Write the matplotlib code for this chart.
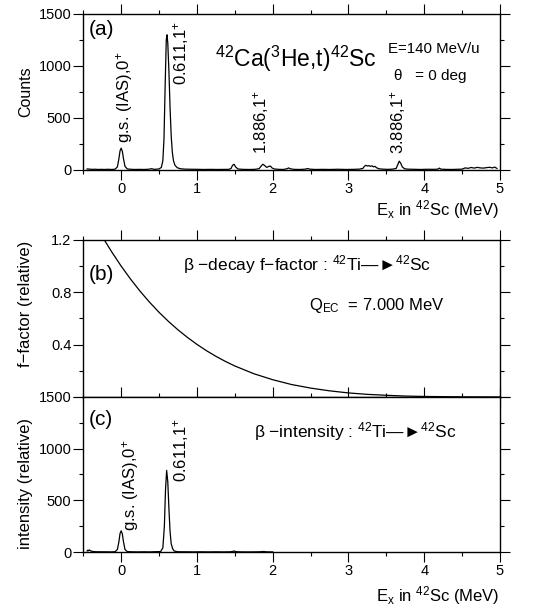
import matplotlib
matplotlib.use('Agg')
import matplotlib.pyplot as plt
from matplotlib.ticker import MultipleLocator

plt.rcParams['font.family'] = ['Liberation Sans', 'DejaVu Sans']
plt.rcParams['mathtext.fontset'] = 'custom'
plt.rcParams['mathtext.rm'] = 'Liberation Sans'
plt.rcParams['mathtext.it'] = 'Liberation Sans:italic'
plt.rcParams['mathtext.bf'] = 'Liberation Sans:bold'

# (a) 42Ca(3He,t) spectrum, counts vs Ex
ex_a = [-0.45, -0.42, -0.38, -0.34, -0.30, -0.26, -0.22, -0.18, -0.14, -0.10,
        -0.08, -0.05, -0.03, -0.015, 0.0, 0.015, 0.03, 0.05, 0.08, 0.12,
        0.18, 0.24, 0.30, 0.36, 0.40, 0.44, 0.47, 0.50, 0.53, 0.55,
        0.565, 0.58, 0.595, 0.605, 0.615, 0.63, 0.645, 0.66, 0.675, 0.69,
        0.71, 0.74, 0.78, 0.84, 0.90, 0.96, 1.02, 1.10, 1.18, 1.26,
        1.34, 1.42, 1.45, 1.47, 1.49, 1.51, 1.54, 1.60, 1.68, 1.76,
        1.82, 1.85, 1.87, 1.89, 1.92, 1.95, 1.97, 1.99, 2.02, 2.08,
        2.14, 2.19, 2.21, 2.23, 2.28, 2.36, 2.43, 2.46, 2.49, 2.56,
        2.66, 2.76, 2.86, 2.96, 3.06, 3.14, 3.19, 3.21, 3.23, 3.25,
        3.27, 3.29, 3.31, 3.33, 3.35, 3.37, 3.40, 3.45, 3.52, 3.58,
        3.63, 3.65, 3.67, 3.69, 3.71, 3.74, 3.78, 3.88, 3.96, 4.04,
        4.12, 4.18, 4.20, 4.22, 4.28, 4.36, 4.44, 4.50, 4.54, 4.58,
        4.62, 4.66, 4.70, 4.74, 4.78, 4.82, 4.86, 4.90, 4.93, 4.96]
counts_a = [10, 8, 6, 7, 5, 6, 5, 7, 5, 6,
            8, 30, 110, 185, 210, 180, 110, 35, 10, 7,
            5, 6, 5, 7, 12, 6, 8, 10, 25, 90,
            300, 800, 1250, 1300, 1220, 950, 600, 330, 170, 90,
            45, 22, 12, 8, 7, 5, 6, 5, 6, 5,
            6, 6, 15, 45, 55, 30, 10, 6, 5, 6,
            12, 40, 55, 45, 25, 35, 38, 20, 10, 6,
            5, 12, 20, 12, 6, 5, 8, 14, 8, 5,
            6, 5, 7, 5, 6, 8, 15, 35, 45, 38,
            42, 35, 40, 30, 35, 22, 12, 8, 6, 8,
            15, 50, 85, 65, 30, 12, 8, 6, 5, 7,
            6, 8, 18, 8, 6, 5, 7, 8, 20, 16,
            24, 18, 25, 20, 18, 22, 26, 20, 28, 15]

# (b) beta-decay f-factor (relative)
ex_b = [-0.25, -0.125, 0.0, 0.125, 0.25, 0.375, 0.5, 0.625, 0.75, 0.875,
        1.0, 1.125, 1.25, 1.375, 1.5, 1.75, 2.0, 2.25, 2.5, 2.75,
        3.0, 3.25, 3.5, 3.75, 4.0, 4.5, 5.0]
f_b = [1.226, 1.109, 1.0, 0.900, 0.808, 0.724, 0.647, 0.577, 0.513, 0.455,
       0.402, 0.354, 0.311, 0.272, 0.237, 0.178, 0.132, 0.095, 0.068, 0.047,
       0.031, 0.020, 0.013, 0.007, 0.004, 0.001, 0.0]

# (c) beta intensity (relative)
ex_c = [-0.45, -0.44, -0.43, -0.42, -0.41, -0.40, -0.38, -0.35, -0.30, -0.22,
        -0.14, -0.08, -0.05, -0.03, -0.015, 0.0, 0.015, 0.03, 0.05, 0.08,
        0.14, 0.22, 0.30, 0.38, 0.45, 0.52, 0.55, 0.57, 0.585, 0.60,
        0.615, 0.63, 0.645, 0.66, 0.68, 0.70, 0.74, 0.80, 0.86, 0.95,
        1.05, 1.15, 1.25, 1.35, 1.44, 1.47, 1.49, 1.51, 1.54, 1.62,
        1.72, 1.82, 1.86, 1.88, 1.91, 1.96, 2.0]
inten_c = [10, 18, 12, 20, 14, 10, 6, 3, 2, 2,
           1, 3, 25, 100, 180, 205, 175, 100, 25, 4,
           2, 1, 2, 1, 3, 4, 40, 250, 600, 790,
           680, 420, 200, 80, 30, 10, 3, 2, 2, 1,
           2, 1, 2, 1, 2, 5, 10, 5, 2, 1,
           1, 2, 4, 5, 2, 1, 1]

xlab = r'E$_{\rm x}$ in $^{42}$Sc (MeV)'

fig = plt.figure(figsize=(5.51, 6.13), dpi=100)
L, W = 0.1512, 0.7562
ax_a = fig.add_axes([L, 0.7227, W, 0.2545])
ax_b = fig.add_axes([L, 0.3524, W, 0.2561])
ax_c = fig.add_axes([L, 0.0995, W, 0.2529])


def style(ax, ymaj, ymin):
    ax.set_xlim(-0.5, 5)
    ax.xaxis.set_major_locator(MultipleLocator(1))
    ax.xaxis.set_minor_locator(MultipleLocator(0.5))
    ax.yaxis.set_major_locator(MultipleLocator(ymaj))
    ax.yaxis.set_minor_locator(MultipleLocator(ymin))
    ax.tick_params(which='both', direction='out', top=True, right=True,
                   width=0.8, labelsize=10.5, pad=1.5)
    ax.tick_params(which='major', length=7)
    ax.tick_params(which='minor', length=3)
    for s in ax.spines.values():
        s.set_linewidth(1.0)


# (a)
ax_a.plot(ex_a, counts_a, color='black', lw=0.9)
ax_a.set_ylim(0, 1500)
style(ax_a, 500, 250)
ax_a.set_ylabel('Counts', fontsize=11.5)
ax_a.yaxis.set_label_coords(-0.12, 0.5)
ax_a.set_xlabel(xlab, fontsize=12, ha='right')
ax_a.xaxis.set_label_coords(1.0, -0.18)
ax_a.text(0.014, 0.90, '(a)', transform=ax_a.transAxes, fontsize=15, va='center')
ax_a.text(0.509, 0.662, r'$^{42}$Ca($^{3}$He,t)$^{42}$Sc', transform=ax_a.transAxes,
          fontsize=16.5, ha='center', va='baseline')
ax_a.text(0.731, 0.748, 'E=140 MeV/u', transform=ax_a.transAxes, fontsize=10.8,
          va='baseline')
ax_a.text(0.746, 0.577, 'θ   = 0 deg', transform=ax_a.transAxes, fontsize=11,
          va='baseline')
ax_a.text(0.04, 260, r'g.s. (IAS),0$^{+}$', rotation=90, fontsize=12,
          ha='center', va='bottom')
ax_a.text(0.785, 817, r'0.611,1$^{+}$', rotation=90, fontsize=12,
          ha='center', va='bottom')
ax_a.text(1.85, 150, r'1.886,1$^{+}$', rotation=90, fontsize=12,
          ha='center', va='bottom')
ax_a.text(3.66, 150, r'3.886,1$^{+}$', rotation=90, fontsize=12,
          ha='center', va='bottom')

# (b)
ax_b.plot(ex_b, f_b, color='black', lw=0.9)
ax_b.set_ylim(0, 1.2)
style(ax_b, 0.4, 0.2)
ax_b.tick_params(labelbottom=False)
ax_b.set_yticks([0.2, 0.6, 1.0], minor=True)
ax_b.set_yticks([0, 0.4, 0.8, 1.2], ['', '0.4', '0.8', '1.2'])
ax_b.set_ylabel('f−factor (relative)', fontsize=12)
ax_b.yaxis.set_label_coords(-0.12, 0.59)
ax_b.text(0.014, 0.783, '(b)', transform=ax_b.transAxes, fontsize=15, va='center')
ax_b.text(0.239, 0.809, 'β −decay f−factor : $^{42}$Ti\u2014\u25ba$^{42}$Sc',
          transform=ax_b.transAxes, fontsize=12.5, va='baseline')
ax_b.text(0.541, 0.554, r'Q$_{\rm EC}$  = 7.000 MeV', transform=ax_b.transAxes,
          fontsize=12, va='baseline')

# (c)
ax_c.plot(ex_c, inten_c, color='black', lw=0.9)
ax_c.set_ylim(0, 1500)
style(ax_c, 500, 250)
ax_c.set_ylabel('intensity (relative)', fontsize=12)
ax_c.yaxis.set_label_coords(-0.12, 0.445)
ax_c.set_xlabel(xlab, fontsize=12, ha='right')
ax_c.xaxis.set_label_coords(1.0, -0.205)
ax_c.text(0.014, 0.852, '(c)', transform=ax_c.transAxes, fontsize=15, va='center')
ax_c.text(0.409, 0.737, 'β −intensity : $^{42}$Ti\u2014\u25ba$^{42}$Sc',
          transform=ax_c.transAxes, fontsize=12.5, va='baseline')
ax_c.text(0.12, 205, r'g.s. (IAS),0$^{+}$', rotation=90, fontsize=12,
          ha='center', va='bottom')
ax_c.text(0.79, 680, r'0.611,1$^{+}$', rotation=90, fontsize=12,
          ha='center', va='bottom')

fig.savefig('out.png', dpi=100)
